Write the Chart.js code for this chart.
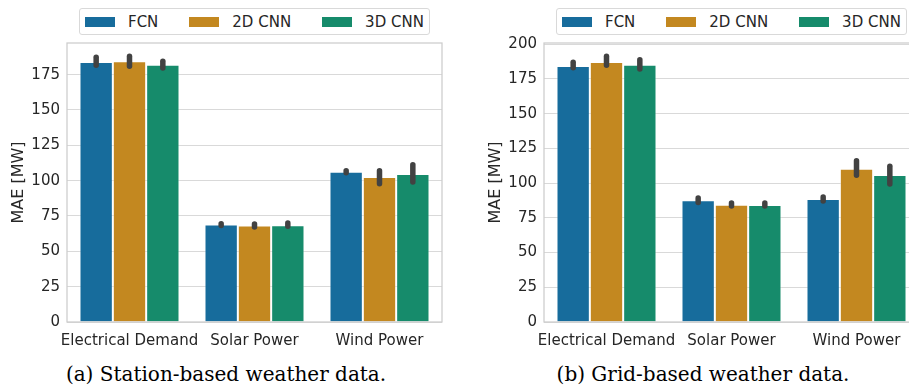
<!DOCTYPE html>
<html>
<head>
<meta charset="utf-8">
<script src="https://cdn.jsdelivr.net/npm/chart.js@4.4.1/dist/chart.umd.min.js"></script>
<style>
  html, body { margin: 0; padding: 0; background: #fff; }
  body { width: 909px; height: 390px; position: relative; overflow: hidden; font-family: "DejaVu Sans", sans-serif; }
  .panel { position: absolute; top: 0; width: 450px; height: 360px; }
  .legend { position: absolute; top: 8px; height: 25px; border: 1px solid #d9d9d9; border-radius: 3px; background: #fff;
            display: flex; align-items: center; padding: 0 5px; font-size: 15px; color: #262626; z-index: 2; }
  .legend .item { display: flex; align-items: center; margin-right: 31px; }
  .legend .item:last-child { margin-right: 0; }
  .legend .swatch { width: 30px; height: 10px; margin-right: 13px; }
  .caption { position: absolute; top: 362px; width: 452px; text-align: center; font-family: "DejaVu Serif", serif; font-size: 20px; color: #000; z-index: 2; }
</style>
</head>
<body>
<div class="panel" style="left:0px"><canvas id="chart_station"></canvas></div>
<div class="panel" style="left:477px"><canvas id="chart_grid"></canvas></div>
<div class="legend" id="legend_station" style="left:79px"></div>
<div class="legend" id="legend_grid" style="left:556px"></div>
<div class="caption" style="left:0px">(a) Station-based weather data.</div>
<div class="caption" style="left:477px">(b) Grid-based weather data.</div>

<script>
const categories = ['Electrical Demand', 'Solar Power', 'Wind Power'];
const models = ['FCN', '2D CNN', '3D CNN'];
const colors = ['#176c9c', '#c38820', '#168b6b'];

// rows: FCN, 2D CNN, 3D CNN
const stationMae  = [[184.0, 69.0, 106.3], [184.5, 68.2, 102.6], [182.0, 68.5, 104.8]];
const stationLow  = [[181.6, 68.3, 105.6], [181.0, 67.2,  97.9], [179.7, 67.7,  99.1]];
const stationHigh = [[187.4, 69.6, 107.1], [188.0, 69.4, 107.1], [184.5, 70.1, 111.3]];

const gridMae  = [[184.4, 87.6,  88.6], [187.3, 84.5, 110.4], [185.2, 84.3, 105.9]];
const gridLow  = [[183.0, 86.0,  87.2], [184.9, 83.5, 105.7], [182.2, 83.5,  99.4]];
const gridHigh = [[187.0, 89.3,  90.0], [191.3, 85.7, 116.2], [188.9, 85.7, 112.1]];

Chart.defaults.font.family = "'DejaVu Sans', sans-serif";

const frame = {
    id: 'frame',
    afterDatasetsDraw(chart) {
        const a = chart.chartArea, ctx = chart.ctx;
        ctx.save();
        ctx.strokeStyle = '#cccccc';
        ctx.lineWidth = 1.25;
        ctx.strokeRect(a.left, a.top, a.right - a.left, a.bottom - a.top);
        ctx.restore();
    }
};

const errorBars = {
    id: 'errorBars',
    afterDatasetsDraw(chart) {
        const ctx = chart.ctx, y = chart.scales.y;
        ctx.save();
        ctx.strokeStyle = '#424242';
        ctx.lineWidth = 5.5;
        ctx.lineCap = 'round';
        chart.data.datasets.forEach((ds, i) => {
            chart.getDatasetMeta(i).data.forEach((bar, j) => {
                ctx.beginPath();
                ctx.moveTo(bar.x, y.getPixelForValue(ds.errLow[j]));
                ctx.lineTo(bar.x, y.getPixelForValue(ds.errHigh[j]));
                ctx.stroke();
            });
        });
        ctx.restore();
    }
};

function buildLegend(id) {
    const box = document.getElementById(id);
    models.forEach((m, i) => {
        const item = document.createElement('div');
        item.className = 'item';
        item.innerHTML = '<span class="swatch" style="background:' + colors[i] + '"></span><span>' + m + '</span>';
        box.appendChild(item);
    });
}

function buildChart(id, means, lows, highs, yMax) {
    return new Chart(document.getElementById(id), {
        type: 'bar',
        data: {
            labels: categories,
            datasets: models.map((m, i) => ({
                label: m,
                data: means[i],
                errLow: lows[i],
                errHigh: highs[i],
                backgroundColor: colors[i],
                borderColor: 'rgba(255,255,255,0.45)',
                borderWidth: 1,
                categoryPercentage: 0.8,
                barPercentage: 1.0
            }))
        },
        options: {
            responsive: true,
            maintainAspectRatio: false,
            animation: false,
            layout: { padding: { top: 43, right: 8, left: 0, bottom: 15 } },
            plugins: { legend: { display: false }, tooltip: { enabled: false } },
            scales: {
                x: {
                    grid: { display: false },
                    border: { display: false },
                    ticks: { color: '#262626', font: { size: 15 }, padding: 2, minRotation: 0, maxRotation: 0, autoSkip: false },
                    afterFit: s => { s.height = 23; s.paddingLeft = 0; s.paddingRight = 0; }
                },
                y: {
                    min: 0,
                    max: yMax,
                    grid: { color: '#d9d9d9', lineWidth: 1, drawTicks: false },
                    border: { display: false },
                    ticks: { stepSize: 25, includeBounds: false, color: '#262626', font: { size: 15 }, padding: 7 },
                    title: { display: true, text: 'MAE [MW]', color: '#262626', font: { size: 16 }, padding: { top: 9, bottom: 0 } },
                    afterFit: s => { s.width = 67; }
                }
            }
        },
        plugins: [frame, errorBars]
    });
}

buildLegend('legend_station');
buildLegend('legend_grid');
buildChart('chart_station', stationMae, stationLow, stationHigh, 197.4);
buildChart('chart_grid', gridMae, gridLow, gridHigh, 200.9);
</script>
</body>
</html>
